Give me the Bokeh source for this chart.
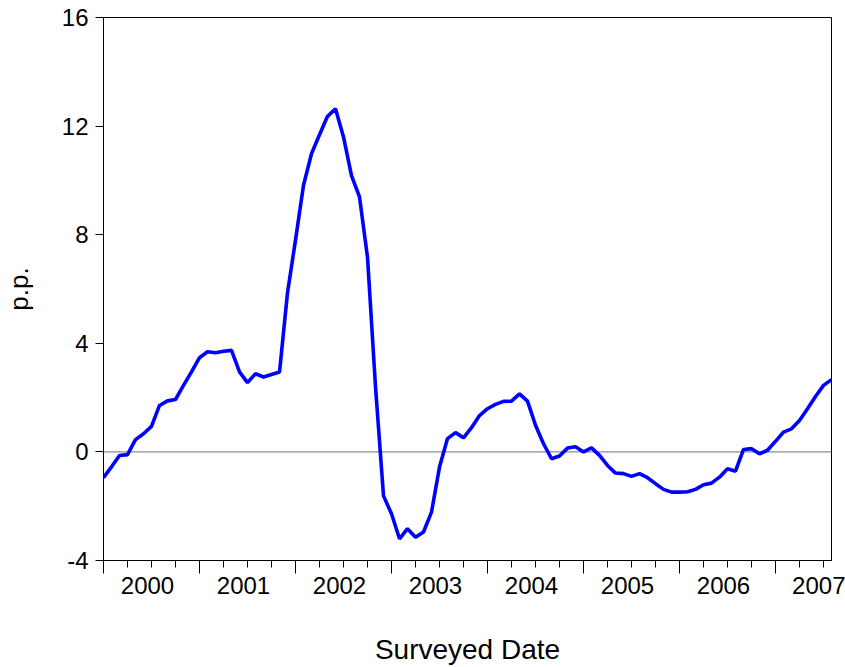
from bokeh.plotting import figure
from bokeh.models import Range1d, FixedTicker, LinearAxis, Span
from bokeh.embed import file_html
from bokeh.resources import INLINE

# Monthly observations, Jan 2000 .. Aug 2007 (p.p.)
start_year = 2000
values = [
    -0.95, -0.55, -0.13, -0.10, 0.45, 0.67, 0.94, 1.71, 1.88, 1.93, 2.45, 2.95,
    3.47, 3.69, 3.65, 3.71, 3.74, 2.95, 2.55, 2.88, 2.76, 2.85, 2.94, 5.86,
    7.80, 9.82, 10.98, 11.68, 12.36, 12.64, 11.60, 10.18, 9.39, 7.17, 2.40, -1.62,
    -2.28, -3.20, -2.83, -3.14, -2.95, -2.22, -0.56, 0.49, 0.71, 0.52, 0.89, 1.34,
    1.59, 1.75, 1.86, 1.87, 2.14, 1.87, 0.98, 0.30, -0.25, -0.15, 0.14, 0.19,
    0.00, 0.15, -0.13, -0.50, -0.78, -0.80, -0.90, -0.80, -0.95, -1.17, -1.38, -1.48,
    -1.48, -1.47, -1.38, -1.21, -1.15, -0.93, -0.62, -0.71, 0.09, 0.12, -0.07, 0.06,
    0.39, 0.73, 0.85, 1.16, 1.59, 2.04, 2.45, 2.66,
]
year_labels = ["2000", "2001", "2002", "2003", "2004", "2005", "2006", "2007"]
y_ticks = [-4, 0, 4, 8, 12, 16]
y_tick_labels = ["-4", "0", "4", "8", "12", "16"]

months = list(range(len(values)))  # month index since Jan 2000

FONT = "Liberation Sans"
TICK_FS = "24px"

p = figure(width=845, height=667, output_backend="svg", toolbar_location=None,
           x_range=Range1d(months[0], months[-1]), y_range=Range1d(-4, 16),
           min_border_left=103, min_border_right=14, min_border_top=17,
           min_border_bottom=107)
p.background_fill_color = "white"
p.border_fill_color = "white"
p.outline_line_color = "black"
p.outline_line_width = 1
p.xgrid.visible = False
p.ygrid.visible = False

# zero reference line
p.add_layout(Span(location=0, dimension="width", line_color="#6e6e6e",
                  line_width=1, level="underlay"))

p.line(months, values, line_color="#0000FF", line_width=3.6)

# y axis
ya = p.yaxis[0]
ya.ticker = FixedTicker(ticks=y_ticks)
ya.major_label_overrides = {t: s for t, s in zip(y_ticks, y_tick_labels)}
ya.major_tick_out = 8
ya.major_tick_in = 0
ya.minor_tick_line_color = None
ya.axis_line_color = "black"
ya.major_label_text_font = FONT
ya.major_label_text_font_size = TICK_FS
ya.major_label_text_color = "black"
ya.major_label_standoff = 7
ya.axis_label = "p.p."
ya.axis_label_text_font = FONT
ya.axis_label_text_font_size = "26px"
ya.axis_label_text_font_style = "normal"
ya.axis_label_text_color = "black"
ya.axis_label_standoff = 25

# x axis: year boundary ticks + quarterly minor ticks
n_years = len(year_labels)
year_starts = [12 * k for k in range(n_years)]
quarters = [3 * k for k in range(len(values) // 3 + 1) if (3 * k) % 12 != 0]
xa = p.xaxis[0]
xa.ticker = FixedTicker(ticks=year_starts, minor_ticks=quarters)
xa.major_tick_out = 13
xa.major_tick_in = 0
xa.minor_tick_out = 7
xa.minor_tick_in = 0
xa.major_tick_line_color = "black"
xa.minor_tick_line_color = "black"
xa.axis_line_color = "black"
xa.major_label_text_font_size = "0px"
xa.major_label_text_color = None
xa.major_label_standoff = 0

# year labels centered within each year
label_pos = [12 * k + 5.5 for k in range(n_years)]
la = LinearAxis(ticker=FixedTicker(ticks=label_pos),
                major_label_overrides={pos: lab for pos, lab in zip(label_pos, year_labels)})
la.axis_line_color = None
la.major_tick_line_color = None
la.minor_tick_line_color = None
la.major_tick_out = 0
la.major_tick_in = 0
la.major_label_text_font = FONT
la.major_label_text_font_size = TICK_FS
la.major_label_text_color = "black"
la.major_label_standoff = 3
la.axis_label = "Surveyed Date"
la.axis_label_text_font = FONT
la.axis_label_text_font_size = "28px"
la.axis_label_text_font_style = "normal"
la.axis_label_text_color = "black"
la.axis_label_standoff = 37
p.add_layout(la, "below")

open("out.html", "w").write(file_html(p, INLINE))
